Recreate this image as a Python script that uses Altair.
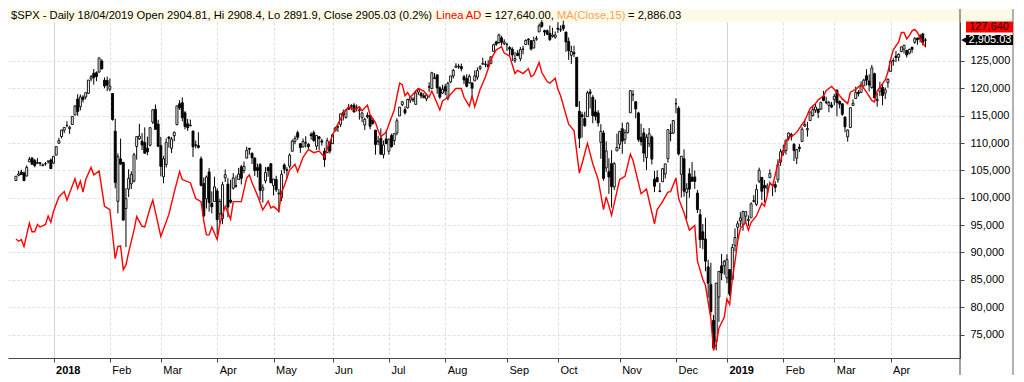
import json
import altair as alt
import pandas as pd

# ---------------- data ----------------
# $SPX daily candles, 11 Dec 2017 .. 18 Apr 2019 (one entry per trading day)
opens = [
    2652.2, 2661.7, 2667.6, 2665.9, 2660.6, 2685.9, 2692.7, 2688.2, 2683.0, 2684.2, 2679.1, 2682.1, 2686.1, 2689.2,
    2683.7, 2697.9, 2719.3, 2731.3, 2742.7, 2751.2, 2745.6, 2753.0, 2770.2, 2799.0, 2785.0, 2802.4, 2802.6, 2809.2, 2835.1, 2845.4, 2846.2, 2847.5, 2867.2, 2832.7, 2832.4,
    2816.5, 2808.9, 2741.1, 2614.8, 2691.0, 2685.0, 2601.8, 2636.8, 2646.3, 2651.2, 2713.5, 2727.1, 2723.0, 2720.5, 2710.4, 2715.8, 2757.4, 2780.5, 2753.8,
    2715.2, 2658.9, 2681.1, 2730.2, 2710.2, 2732.8, 2752.9, 2790.5, 2792.3, 2774.1, 2754.3, 2750.6, 2741.4, 2715.1, 2715.0, 2691.4, 2646.7, 2619.4, 2667.6, 2611.3, 2614.4,
    2633.5, 2592.2, 2584.0, 2657.4, 2645.8, 2617.2, 2638.4, 2643.0, 2653.8, 2676.9, 2670.1, 2692.7, 2710.1, 2701.2, 2692.6, 2675.4, 2680.8, 2634.9, 2651.7, 2675.5, 2682.5,
    2643.0, 2654.2, 2628.1, 2621.5, 2680.3, 2670.3, 2678.1, 2705.0, 2722.7, 2738.3, 2718.6, 2712.6, 2719.7, 2717.4, 2735.4, 2738.3, 2714.0, 2730.9, 2723.6, 2705.1, 2702.4, 2721.0,
    2718.7, 2741.7, 2748.5, 2753.3, 2774.8, 2765.8, 2780.2, 2785.6, 2787.9, 2783.2, 2777.8, 2765.8, 2752.0, 2769.7, 2769.3, 2760.8, 2742.9, 2722.1, 2728.5, 2698.7, 2727.1,
    2705.0, 2733.3, 2724.2, 2737.7, 2768.5, 2788.6, 2779.8, 2783.1, 2796.9, 2797.4, 2789.3, 2811.4, 2809.4, 2804.6, 2799.2, 2820.7, 2817.7, 2835.5, 2842.4, 2819.0, 2809.7,
    2821.2, 2800.5, 2829.6, 2840.3, 2855.9, 2856.8, 2857.2, 2838.9, 2835.5, 2827.9, 2828.0, 2831.4, 2838.3, 2853.9, 2861.5, 2861.0, 2860.3, 2862.4, 2884.7, 2901.5, 2900.6, 2908.9, 2898.4,
    2897.0, 2891.6, 2888.6, 2868.3, 2881.4, 2871.6, 2888.3, 2896.9, 2906.4, 2903.8, 2890.7, 2906.6, 2919.7, 2936.8, 2921.8, 2921.8, 2917.0, 2911.7, 2910.0,
    2926.3, 2923.8, 2931.7, 2919.4, 2902.5, 2877.5, 2882.5, 2873.9, 2776.9, 2770.5, 2763.8, 2767.1, 2811.7, 2802.0, 2775.7, 2773.9, 2721.0, 2737.9, 2674.9, 2667.9, 2682.7, 2640.7, 2705.6,
    2717.6, 2745.5, 2726.4, 2738.4, 2774.1, 2806.4, 2794.1, 2773.9, 2730.1, 2737.9, 2693.5, 2718.5, 2730.7, 2654.6, 2657.7, 2633.4, 2650.0, 2663.8, 2691.5, 2737.0, 2737.8,
    2790.5, 2782.4, 2663.5, 2691.3, 2630.9, 2664.4, 2658.2, 2658.7, 2629.7, 2590.8, 2559.9, 2547.1, 2496.8, 2465.4, 2400.6, 2363.1, 2442.5, 2498.8, 2498.9,
    2477.0, 2491.9, 2474.3, 2535.6, 2568.1, 2580.0, 2573.5, 2588.1, 2580.3, 2585.1, 2614.8, 2609.3, 2651.3, 2657.9, 2643.5, 2638.8, 2657.4, 2645.0, 2644.9, 2653.6, 2685.5,
    2702.3, 2706.5, 2728.3, 2735.1, 2717.5, 2692.4, 2712.4, 2722.6, 2750.3, 2743.5, 2760.2, 2769.3, 2779.1, 2780.7, 2780.7, 2804.4, 2792.4, 2787.5, 2788.1,
    2798.2, 2814.4, 2794.4, 2790.3, 2766.5, 2730.8, 2747.6, 2787.3, 2799.8, 2811.0, 2810.8, 2822.6, 2840.8, 2831.3, 2819.7, 2844.5, 2796.0, 2812.7, 2819.7, 2809.4, 2828.3,
    2848.6, 2868.2, 2876.1, 2874.0, 2884.2, 2888.5, 2886.6, 2881.4, 2891.9, 2900.9, 2908.3, 2912.3, 2916.0, 2904.81,
]
highs = [
    2660.3, 2669.7, 2671.9, 2668.1, 2679.6, 2695.0, 2694.4, 2691.0, 2692.6, 2685.4, 2682.7, 2685.6, 2687.7, 2692.1,
    2695.9, 2714.4, 2729.3, 2743.5, 2748.5, 2759.1, 2750.8, 2767.6, 2787.9, 2807.5, 2807.0, 2805.8, 2810.3, 2833.0, 2842.2, 2853.0, 2848.6, 2872.9, 2870.6, 2837.8, 2839.3,
    2836.0, 2808.9, 2763.4, 2701.0, 2727.7, 2685.3, 2638.7, 2672.6, 2668.8, 2702.1, 2731.5, 2754.4, 2737.6, 2747.8, 2731.3, 2747.8, 2780.0, 2789.1, 2761.5,
    2730.9, 2696.3, 2728.1, 2732.1, 2730.6, 2740.5, 2786.6, 2797.0, 2801.9, 2777.1, 2763.0, 2761.9, 2741.4, 2724.2, 2739.1, 2695.7, 2657.7, 2661.4, 2674.8, 2632.7, 2659.1,
    2638.3, 2619.1, 2649.9, 2672.1, 2656.9, 2653.6, 2665.5, 2661.4, 2674.7, 2680.3, 2686.5, 2713.3, 2711.0, 2702.8, 2693.9, 2682.9, 2683.6, 2645.3, 2676.5, 2677.4, 2682.9,
    2655.3, 2660.9, 2637.1, 2670.9, 2683.4, 2676.3, 2701.3, 2726.1, 2732.9, 2742.1, 2718.6, 2727.8, 2732.0, 2719.5, 2739.2, 2742.2, 2733.3, 2732.0, 2727.4, 2710.7, 2729.3, 2722.5,
    2736.9, 2749.2, 2752.6, 2772.4, 2779.9, 2779.4, 2790.2, 2789.8, 2791.5, 2789.1, 2782.8, 2775.0, 2765.1, 2774.9, 2769.3, 2764.2, 2742.9, 2732.9, 2746.1, 2724.3, 2743.3,
    2727.3, 2736.6, 2737.8, 2764.4, 2784.7, 2795.6, 2785.9, 2799.2, 2804.5, 2802.5, 2814.2, 2816.8, 2812.1, 2809.7, 2808.6, 2829.0, 2848.0, 2845.6, 2843.2, 2821.7, 2824.5,
    2825.8, 2829.9, 2840.4, 2853.3, 2863.4, 2862.4, 2862.5, 2842.2, 2843.4, 2843.1, 2828.0, 2850.5, 2855.6, 2859.8, 2873.2, 2867.5, 2868.8, 2876.2, 2898.3, 2903.8, 2916.5, 2912.5, 2906.3,
    2900.2, 2894.2, 2892.1, 2883.8, 2886.9, 2892.5, 2894.7, 2906.3, 2908.3, 2904.7, 2911.2, 2912.4, 2934.8, 2940.9, 2923.8, 2924.0, 2931.2, 2927.2, 2920.5,
    2937.1, 2931.4, 2939.9, 2919.8, 2909.6, 2894.8, 2894.8, 2874.0, 2795.1, 2775.8, 2776.0, 2813.5, 2816.9, 2806.0, 2797.8, 2778.9, 2753.6, 2742.6, 2722.7, 2692.4, 2706.9, 2685.4, 2736.7,
    2741.7, 2756.6, 2744.3, 2756.8, 2815.2, 2814.8, 2794.1, 2776.0, 2754.6, 2746.8, 2735.4, 2746.8, 2733.2, 2669.4, 2670.7, 2647.6, 2674.4, 2682.5, 2744.0, 2753.8, 2760.9,
    2800.2, 2785.9, 2696.1, 2708.5, 2647.5, 2674.4, 2685.4, 2670.2, 2635.1, 2601.1, 2574.0, 2585.3, 2509.6, 2504.4, 2410.3, 2467.8, 2489.1, 2520.3, 2509.2,
    2519.5, 2493.1, 2538.1, 2566.2, 2579.8, 2595.3, 2597.8, 2596.3, 2589.3, 2613.1, 2625.8, 2645.1, 2675.5, 2657.9, 2653.2, 2647.2, 2672.4, 2645.0, 2650.9, 2690.4, 2709.0,
    2716.7, 2725.0, 2739.0, 2738.1, 2719.3, 2708.1, 2718.1, 2748.2, 2761.9, 2757.9, 2775.7, 2787.3, 2789.9, 2781.5, 2794.2, 2813.5, 2803.1, 2795.8, 2793.7,
    2808.0, 2816.9, 2796.4, 2790.3, 2767.3, 2744.1, 2784.0, 2798.3, 2821.2, 2815.0, 2830.7, 2835.4, 2852.4, 2843.5, 2860.3, 2846.2, 2809.8, 2829.9, 2825.6, 2819.7, 2836.0,
    2869.4, 2872.9, 2885.3, 2881.3, 2893.2, 2895.9, 2886.9, 2889.7, 2893.4, 2910.5, 2909.6, 2916.1, 2918.0, 2908.4,
]
lows = [
    2651.5, 2659.8, 2662.9, 2652.0, 2659.1, 2685.9, 2680.7, 2676.1, 2682.4, 2678.1, 2678.0, 2678.9, 2682.7, 2673.6,
    2682.4, 2697.8, 2719.1, 2727.9, 2737.6, 2747.9, 2736.1, 2752.8, 2769.6, 2768.6, 2778.4, 2792.6, 2798.1, 2808.1, 2830.6, 2824.8, 2830.9, 2846.2, 2851.5, 2818.3, 2813.0,
    2812.7, 2760.0, 2638.2, 2593.1, 2681.3, 2580.6, 2532.7, 2622.5, 2637.1, 2648.9, 2689.8, 2725.1, 2706.8, 2701.3, 2697.8, 2713.7, 2753.8, 2744.2, 2713.5,
    2659.7, 2647.3, 2675.8, 2711.3, 2701.7, 2722.7, 2751.5, 2779.3, 2758.7, 2744.4, 2741.5, 2750.0, 2694.6, 2710.1, 2709.8, 2641.6, 2585.9, 2601.8, 2596.1, 2593.1, 2614.4,
    2553.8, 2574.5, 2573.6, 2649.6, 2586.3, 2610.8, 2635.8, 2639.3, 2653.8, 2645.1, 2665.2, 2692.1, 2698.7, 2681.9, 2660.6, 2658.0, 2617.3, 2612.7, 2647.2, 2659.0, 2648.0,
    2625.4, 2631.7, 2594.6, 2615.3, 2664.7, 2655.2, 2674.1, 2704.5, 2717.5, 2725.5, 2701.9, 2712.2, 2711.4, 2709.2, 2725.7, 2721.9, 2707.4, 2707.4, 2715.0, 2676.8, 2702.4, 2700.7,
    2718.7, 2740.5, 2739.5, 2748.5, 2760.2, 2763.6, 2780.2, 2778.8, 2774.7, 2776.5, 2761.7, 2757.1, 2743.2, 2763.9, 2744.4, 2752.7, 2698.7, 2715.6, 2699.4, 2692.0, 2718.0,
    2699.0, 2711.2, 2716.0, 2733.5, 2768.5, 2786.2, 2770.8, 2781.5, 2791.7, 2793.4, 2789.2, 2805.9, 2799.8, 2800.0, 2795.1, 2811.1, 2817.4, 2835.3, 2808.3, 2799.0, 2808.1,
    2805.9, 2796.3, 2827.4, 2836.0, 2855.9, 2853.1, 2848.6, 2825.8, 2819.9, 2826.6, 2802.5, 2831.4, 2833.7, 2850.6, 2861.3, 2856.1, 2854.0, 2862.4, 2884.7, 2894.5, 2898.4, 2895.2, 2895.8,
    2885.1, 2876.9, 2867.3, 2864.1, 2875.9, 2866.8, 2879.2, 2896.4, 2895.8, 2886.2, 2890.4, 2903.8, 2919.7, 2927.1, 2912.6, 2913.7, 2903.3, 2909.3, 2907.5,
    2917.9, 2919.4, 2921.4, 2883.9, 2869.3, 2862.1, 2874.3, 2784.9, 2710.5, 2729.4, 2749.0, 2766.9, 2781.8, 2755.2, 2760.3, 2749.2, 2691.4, 2651.9, 2667.8, 2628.2, 2603.5, 2635.3, 2705.6,
    2708.9, 2700.4, 2717.9, 2737.1, 2774.1, 2795.0, 2764.2, 2722.0, 2715.0, 2685.8, 2670.8, 2712.2, 2681.1, 2631.5, 2649.8, 2631.1, 2650.0, 2655.9, 2684.4, 2722.9, 2736.0,
    2773.4, 2697.2, 2621.5, 2623.1, 2583.2, 2621.3, 2650.3, 2637.3, 2593.8, 2530.5, 2528.7, 2489.0, 2441.2, 2408.6, 2351.1, 2346.6, 2397.9, 2472.9, 2482.8,
    2467.5, 2444.0, 2474.3, 2524.6, 2547.6, 2568.9, 2562.0, 2577.4, 2570.4, 2585.1, 2612.7, 2606.4, 2647.6, 2617.3, 2612.9, 2627.0, 2657.3, 2624.1, 2631.1, 2648.3, 2678.7,
    2696.9, 2698.8, 2724.0, 2724.2, 2687.3, 2681.8, 2703.9, 2722.6, 2748.6, 2731.2, 2760.2, 2767.3, 2774.1, 2764.6, 2779.1, 2795.0, 2789.5, 2775.1, 2782.5,
    2787.4, 2767.7, 2782.0, 2768.7, 2739.1, 2722.3, 2747.6, 2786.7, 2799.8, 2803.5, 2810.8, 2822.0, 2823.3, 2812.4, 2817.4, 2800.5, 2785.0, 2804.0, 2787.7, 2798.8, 2819.2,
    2848.6, 2858.8, 2865.2, 2867.1, 2883.0, 2880.8, 2873.6, 2879.1, 2882.0, 2898.4, 2896.5, 2900.7, 2895.4, 2891.9,
]
closes = [
    2660.0, 2664.1, 2662.9, 2652.0, 2675.8, 2690.2, 2681.5, 2679.2, 2684.6, 2683.3, 2680.5, 2682.6, 2687.5, 2673.6,
    2695.8, 2713.1, 2724.0, 2743.2, 2747.7, 2751.3, 2748.2, 2767.6, 2786.2, 2776.4, 2802.6, 2798.0, 2810.3, 2833.0, 2839.1, 2837.5, 2839.3, 2872.9, 2853.5, 2822.4, 2823.8,
    2822.0, 2762.1, 2648.9, 2695.1, 2681.7, 2581.0, 2619.6, 2656.0, 2662.9, 2698.6, 2731.2, 2732.2, 2716.3, 2701.3, 2704.0, 2747.3, 2779.6, 2744.3, 2713.8,
    2677.7, 2691.3, 2720.9, 2728.1, 2726.8, 2739.0, 2786.6, 2783.0, 2765.3, 2749.5, 2747.3, 2752.0, 2712.9, 2716.9, 2711.9, 2643.7, 2588.3, 2658.6, 2612.6, 2605.0, 2640.9,
    2581.9, 2614.5, 2644.7, 2662.8, 2604.5, 2613.2, 2656.9, 2642.2, 2664.0, 2656.3, 2677.8, 2706.4, 2708.6, 2693.1, 2670.1, 2670.3, 2634.6, 2639.4, 2666.9, 2669.9, 2648.1,
    2654.8, 2635.7, 2629.7, 2663.4, 2672.6, 2671.9, 2697.8, 2723.1, 2727.7, 2730.1, 2711.5, 2722.5, 2720.1, 2713.0, 2733.0, 2724.4, 2733.3, 2727.8, 2721.3, 2689.9, 2724.0, 2705.3,
    2734.6, 2746.9, 2748.8, 2772.4, 2770.4, 2779.0, 2782.0, 2786.9, 2775.6, 2782.5, 2779.7, 2773.9, 2762.6, 2767.3, 2749.8, 2754.9, 2717.1, 2723.1, 2699.6, 2716.3, 2718.4,
    2726.7, 2713.2, 2736.6, 2759.8, 2784.2, 2793.8, 2774.0, 2798.3, 2801.3, 2798.4, 2809.6, 2815.6, 2804.5, 2801.8, 2806.0, 2820.4, 2846.1, 2837.4, 2818.8, 2802.6, 2816.3,
    2813.4, 2827.2, 2840.4, 2850.4, 2858.5, 2857.7, 2853.6, 2833.3, 2821.9, 2840.0, 2818.4, 2840.7, 2850.1, 2857.1, 2863.0, 2861.8, 2857.0, 2874.7, 2896.7, 2897.5, 2914.0, 2901.1, 2901.5,
    2896.7, 2888.6, 2878.1, 2871.7, 2877.1, 2887.9, 2888.9, 2904.2, 2905.0, 2888.8, 2904.3, 2908.0, 2930.8, 2929.7, 2919.4, 2915.6, 2906.0, 2914.0, 2914.0,
    2924.6, 2923.4, 2925.5, 2901.6, 2885.6, 2884.4, 2880.3, 2785.7, 2728.4, 2767.1, 2750.8, 2809.9, 2809.2, 2768.8, 2767.8, 2755.9, 2740.7, 2656.1, 2705.6, 2658.7, 2641.3, 2682.6, 2711.7,
    2740.4, 2723.1, 2738.3, 2755.5, 2813.9, 2806.8, 2781.0, 2726.2, 2722.2, 2701.6, 2730.2, 2736.3, 2690.7, 2641.9, 2649.9, 2632.6, 2673.5, 2682.2, 2743.8, 2737.8, 2760.2,
    2790.4, 2700.1, 2696.0, 2633.1, 2637.7, 2636.8, 2651.1, 2650.5, 2600.0, 2545.9, 2546.2, 2507.0, 2467.4, 2416.6, 2351.1, 2467.7, 2488.8, 2485.7, 2506.9,
    2510.0, 2447.9, 2531.9, 2549.7, 2574.4, 2585.0, 2596.6, 2596.3, 2582.6, 2610.3, 2616.1, 2636.0, 2670.7, 2632.9, 2638.7, 2642.3, 2664.8, 2643.9, 2640.0, 2681.1, 2704.1,
    2706.5, 2724.9, 2737.7, 2731.6, 2706.1, 2707.9, 2709.8, 2744.7, 2753.0, 2745.7, 2775.6, 2779.8, 2784.7, 2774.9, 2792.7, 2796.1, 2793.9, 2792.4, 2784.5,
    2803.7, 2792.8, 2789.7, 2771.5, 2748.9, 2743.1, 2783.3, 2791.5, 2810.9, 2808.5, 2822.5, 2832.9, 2832.6, 2824.2, 2854.9, 2800.7, 2798.4, 2818.5, 2805.4, 2815.4, 2834.4,
    2867.2, 2867.2, 2873.4, 2879.4, 2892.7, 2895.8, 2878.2, 2888.2, 2888.3, 2907.4, 2905.6, 2907.1, 2900.5, 2905.03,
]

# "Linea AD" (advance/decline line), trading-day index -> value
ad_day = [
    0, 1, 2, 3, 5, 6, 7, 8, 9, 11, 12, 13, 14, 16, 18, 19, 22, 23, 24, 25, 26, 28, 29, 31, 33, 35,
    37, 38, 39, 40, 41, 42, 44, 45, 47, 48, 50, 51, 54, 57, 59, 61, 62, 65, 67, 69, 70, 71, 72, 73,
    75, 76, 78, 80, 81, 84, 86, 87, 88, 90, 92, 94, 95, 96, 98, 99, 100, 102, 104, 105, 107, 109,
    111, 113, 115, 116, 119, 121, 122, 124, 126, 128, 129, 131, 132, 134, 135, 136, 138, 139, 141,
    143, 144, 145, 146, 147, 149, 150, 152, 154, 155, 156, 158, 159, 161, 164, 166, 167, 169, 170,
    171, 173, 175, 176, 177, 179, 181, 182, 184, 186, 187, 189, 191, 192, 193, 195, 196, 198, 199,
    201, 202, 203, 206, 208, 210, 211, 213, 215, 217, 219, 220, 222, 225, 227, 229, 230, 232, 233,
    235, 238, 239, 241, 243, 244, 246, 247, 249, 251, 253, 254, 256, 257, 259, 260, 261, 262, 264,
    265, 266, 267, 268, 269, 270, 272, 273, 274, 276, 278, 279, 280, 281, 282, 284, 285, 287, 288,
    290, 291, 293, 294, 296, 298, 299, 301, 302, 304, 306, 308, 310, 311, 313, 315, 317, 319, 320,
    321, 324, 325, 326, 327, 329, 330, 331, 332, 333, 334, 335, 336, 338, 339,
]
ad_value = [
    92450, 92050, 92350, 91070, 95350, 93790, 93790, 95120, 94650, 95120, 96680, 95520, 97550, 100150, 101120, 99560, 103450, 101710, 103030, 101020, 103320, 105530, 104190, 104880, 98420, 97830,
    88880, 91070, 91190, 86850, 87720, 90030, 94080, 96560, 94780, 94650, 98120, 99560, 92920, 96960, 101020, 104770, 103320, 102750, 99860, 99280, 95820, 93210, 93210, 94650,
    92350, 95230, 98420, 96090, 99280, 99280, 103620, 104190, 102750, 100430, 97780, 99390, 98120, 98420, 97550, 101020, 102160, 105060, 106100, 104770, 107370, 108820,
    108240, 108530, 107370, 109000, 112570, 114420, 115460, 116620, 116040, 116620, 115860, 116900, 115170, 113730, 112290, 111130, 111990, 113430, 116040,
    120960, 120670, 118640, 119230, 118360, 119500, 119970, 119500, 118360, 119500, 118360, 116040, 117670, 118360, 119970, 119970, 118360, 116730, 118640,
    116620, 119800, 122100, 123560, 125290, 127030, 127600, 126440, 125870, 122690, 123270, 122690, 123560, 122100, 122400, 124710, 122870, 121240, 120960,
    121830, 119800, 118640, 113430, 112290, 104490, 106220, 109970, 106220, 103320, 97830, 100150, 96790, 103320, 103900, 107950, 106790, 102750, 100720,
    101590, 95230, 97830, 99280, 101020, 101120, 103620, 99860, 97260, 94080, 94950, 88470, 85120, 83960, 77890, 72110, 73270, 76150, 78170,
    81500, 80500, 85120, 88290, 92050, 94360, 95520, 94080, 95520, 96680, 98990, 98470, 100380, 102800, 102110, 106270, 106790, 110260, 111130,
    111480, 111990, 113380, 114080, 116330, 117200, 117890, 118580, 119620, 120320, 119280, 118060, 117200, 119280, 119800, 120670, 119280, 117770, 117500,
    119500, 121530, 122970, 125290, 127030, 128470, 130200, 130200, 129040, 129630, 130500, 130770, 130200, 128170, 127640,
]

# x axis: first trading day of each month
month_days = [14, 35, 54, 75, 96, 118, 139, 160, 183, 202, 225, 246, 265, 286, 305, 326]
month_labels = ["2018", "Feb", "Mar", "Apr", "May", "Jun", "Jul", "Aug", "Sep", "Oct",
                "Nov", "Dec", "2019", "Feb", "Mar", "Apr"]
year_days = [14, 265]

# right axis ticks
ad_ticks = [75000, 80000, 85000, 90000, 95000, 100000, 105000, 110000, 115000, 120000, 125000]

# header text
header_texts = [
    "$SPX - Daily 18/04/2019 Open 2904.81, Hi 2908.4, Lo 2891.9, Close 2905.03 (0.2%)",
    "Linea AD",
    "= 127,640.00,",
    "MA(Close,15)",
    "= 2,886.03",
]

# ---------------- layout / styles ----------------
W, H = 952, 336
BAND = 13
FONT = "Liberation Sans"
header_colors = ["#000000", "#ff0000", "#000000", "#f7a35c", "#000000"]
header_x = [3, 428, 477, 549, 620]
HEADER_SIZE = 11.2

price_scale = alt.Scale(domain=[2332.9, 2937.5], nice=False, zero=False)
ad_scale = alt.Scale(domain=[70716, 132110], nice=False, zero=False)
x_scale = alt.Scale(domain=[-1.1, 350], nice=False, zero=False)

year_test = " || ".join(f"datum.value == {d}" for d in year_days)
label_expr = f"{json.dumps(month_labels)}[indexof({json.dumps(month_days)}, datum.value)]"

x_axis = alt.Axis(
    values=month_days, labelExpr=label_expr, title=None,
    labelAlign="left", labelOffset=2, labelPadding=2, labelFontSize=11, labelFont=FONT,
    labelColor="#000000", labelFlush=False, labelOverlap=False,
    labelFontWeight={"condition": {"test": year_test, "value": "bold"}, "value": "normal"},
    tickSize=4, tickColor="#444444", domainColor="#444444",
    grid=True,
    gridColor={"condition": {"test": year_test, "value": "#c4c4c4"}, "value": "#e0e0e0"},
    gridDash={"condition": {"test": year_test, "value": [1, 0]}, "value": [3, 2]},
)
x_enc = alt.X("i:Q", scale=x_scale, axis=x_axis)

price_df = pd.DataFrame({"i": list(range(len(closes))), "open": opens, "high": highs,
                         "low": lows, "close": closes})
ad_df = pd.DataFrame({"i": ad_day, "v": ad_value})
last_df = pd.DataFrame({"p": [closes[-1]], "a": [ad_value[-1]]})
one = pd.DataFrame({"k": [0]})

# up candles hollow (white body, black outline), down candles solid black
candles = alt.Chart(price_df).transform_calculate(
    fillc="datum.close > datum.open ? '#ffffff' : '#000000'"
)

wick = candles.mark_rule(strokeWidth=1, color="#000000").encode(
    x=x_enc,
    y=alt.Y("low:Q", scale=price_scale, axis=None),
    y2="high:Q",
)
body = candles.mark_bar(width=2, strokeWidth=0.9, stroke="#000000", orient="vertical").encode(
    x=x_enc,
    y=alt.Y("open:Q", scale=price_scale, axis=None),
    y2="close:Q",
    fill=alt.Fill("fillc:N", scale=None),
)

ad_line = alt.Chart(ad_df).mark_line(color="#ff0000", strokeWidth=1.4).encode(
    x=x_enc,
    y=alt.Y("v:Q", scale=ad_scale, axis=alt.Axis(
        orient="right", values=ad_ticks, labelExpr="format(datum.value, ',.0f')", title=None,
        labelFontSize=11, labelFont=FONT, labelColor="#000000", labelPadding=6,
        tickSize=4, tickColor="#444444", domainColor="#444444",
        grid=True, gridColor="#e0e0e0", gridDash=[3, 2])),
)

band = alt.Chart(one).mark_rect(color="#fffae6").encode(
    x=alt.value(0), x2=alt.value(W + 53), y=alt.value(-BAND), y2=alt.value(0))

texts = [
    alt.Chart(one).mark_text(align="left", baseline="middle", fontSize=HEADER_SIZE, font=FONT,
                             color=c, text=t).encode(x=alt.value(px), y=alt.value(-6.5))
    for t, c, px in zip(header_texts, header_colors, header_x)
]

axis_ext = alt.Chart(one).mark_rule(color="#444444", strokeWidth=1).encode(
    x=alt.value(W), y=alt.value(-BAND), y2=alt.value(H + 17))
border = alt.Chart(one).mark_rule(color="#666666", strokeWidth=1).encode(
    x=alt.value(W + 53), y=alt.value(-BAND), y2=alt.value(H + 17))

red_box = alt.Chart(last_df).mark_rect(color="#ff0000", yOffset=-25, y2Offset=-14).encode(
    x=alt.value(W + 6), x2=alt.value(W + 53),
    y=alt.Y("a:Q", scale=ad_scale, axis=None), y2="a:Q")
red_text = alt.Chart(last_df).mark_text(color="#1a0000", fontSize=11, font=FONT,
                                        align="center", baseline="middle", dy=-19.5).encode(
    x=alt.value(W + 29), y=alt.Y("a:Q", scale=ad_scale, axis=None),
    text=alt.Text("a:Q", format=","))

black_box = alt.Chart(last_df).mark_rect(color="#000000", yOffset=-5, y2Offset=5).encode(
    x=alt.value(W + 6), x2=alt.value(W + 53),
    y=alt.Y("p:Q", scale=price_scale, axis=None), y2="p:Q")
black_tri = alt.Chart(last_df).mark_point(shape="triangle-left", filled=True, color="#000000",
                                          size=40, opacity=1).encode(
    x=alt.value(W + 4), y=alt.Y("p:Q", scale=price_scale, axis=None))
black_text = alt.Chart(last_df).mark_text(color="#ffffff", fontSize=11, font=FONT,
                                          align="center", baseline="middle").encode(
    x=alt.value(W + 30), y=alt.Y("p:Q", scale=price_scale, axis=None),
    text=alt.Text("p:Q", format=",.2f"))

chart = (
    alt.layer(band, *texts, wick, body, ad_line, axis_ext, border,
              red_box, red_text, black_box, black_tri, black_text)
    .resolve_scale(y="independent")
    .properties(width=W, height=H, padding=0, background="#ffffff")
    .configure_view(strokeWidth=0)
)

chart.save("out.html", embed_options={"renderer": "svg", "actions": False})
